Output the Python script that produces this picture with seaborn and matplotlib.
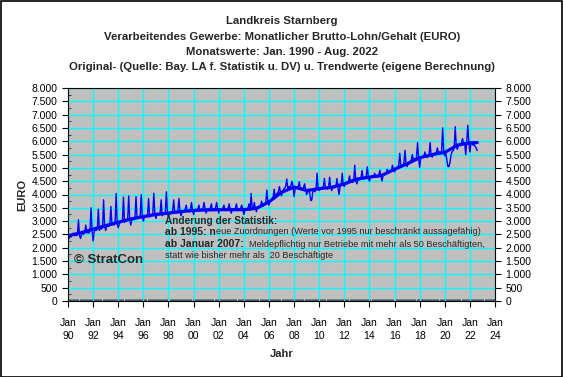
import pandas as pd
import matplotlib
matplotlib.use("Agg")
import matplotlib.pyplot as plt
import seaborn as sns
from matplotlib.ticker import FuncFormatter, MultipleLocator

# monthly gross wage (EURO), Jan 1990 - Aug 2022
values_1990s = [
    2400, 2350, 2450, 2400, 2500, 2550, 2450, 2500, 2450, 2500, 3050, 2450,
    2350, 2500, 2550, 2500, 2600, 2850, 2550, 2600, 2550, 2650, 3500, 2650,
    2260, 2600, 2700, 2650, 2700, 3450, 2650, 2750, 2700, 2750, 3800, 2800,
    2650, 2800, 2850, 2800, 2900, 3550, 2850, 2900, 2850, 2950, 4040, 2900,
    2750, 2900, 2950, 2950, 3000, 3900, 2950, 3050, 3000, 3050, 3950, 3050,
    2850, 3050, 3100, 3050, 3150, 3920, 3100, 3150, 3100, 3200, 4000, 3150,
    3000, 3150, 3200, 3150, 3250, 3850, 3150, 3250, 3200, 3250, 4050, 3250,
    3100, 3250, 3300, 3250, 3300, 3800, 3200, 3300, 3250, 3350, 4100, 3300,
    3150, 3300, 3350, 3300, 3400, 3800, 3300, 3350, 3300, 3400, 3850, 3350,
    3200, 3350, 3400, 3350, 3450, 3600, 3350, 3400, 3350, 3450, 3700, 3400,
]
values_2000s = [
    3250, 3400, 3450, 3400, 3450, 3600, 3400, 3450, 3400, 3500, 3700, 3450,
    3300, 3450, 3450, 3400, 3500, 3650, 3400, 3450, 3400, 3500, 3700, 3450,
    3300, 3450, 3450, 3400, 3500, 3600, 3400, 3450, 3450, 3500, 3650, 3450,
    3300, 3450, 3450, 3400, 3500, 3650, 3400, 3450, 3400, 3500, 3600, 3450,
    3250, 3400, 3450, 3450, 3500, 3650, 3400, 4040, 3450, 3500, 3700, 3500,
    3350, 3500, 3550, 3500, 3600, 3750, 3550, 3600, 3650, 3700, 4170, 3700,
    3600, 3750, 3800, 3850, 3900, 4200, 3900, 4000, 4050, 4100, 4300, 4100,
    3950, 4100, 4200, 4250, 4300, 4580, 4250, 4300, 4250, 4350, 4500, 4300,
    3920, 4200, 4250, 4250, 4300, 4480, 4200, 4250, 4200, 4250, 4400, 4200,
    4000, 4100, 4150, 4050, 3770, 3800, 4150, 4150, 4100, 4200, 4800, 4200,
]
values_2010s = [
    4150, 4200, 4250, 4200, 4300, 4600, 4250, 4250, 4200, 4300, 4650, 4250,
    4150, 4250, 4300, 4250, 4300, 4600, 4250, 4000, 4300, 4350, 4800, 4350,
    4300, 4400, 4450, 4400, 4500, 4700, 4450, 4500, 4450, 4550, 5100, 4500,
    4400, 4550, 4600, 4550, 4650, 4900, 4600, 4650, 4600, 4700, 5040, 4650,
    4500, 4650, 4700, 4650, 4700, 4800, 4650, 4700, 4650, 4750, 4910, 4700,
    4500, 4700, 4750, 4750, 4800, 4950, 4800, 4850, 4850, 4900, 5100, 4900,
    4850, 4950, 5000, 5000, 5100, 5550, 5050, 5100, 5100, 5200, 5660, 5150,
    5050, 5150, 5200, 5250, 5300, 5500, 5300, 5350, 5300, 5400, 5950, 5350,
    5020, 5350, 5400, 5400, 5450, 5600, 5400, 5450, 5400, 5500, 5950, 5450,
    5400, 5500, 5550, 5500, 5600, 5750, 5550, 5600, 5550, 5650, 6500, 5600,
]
values_2020s = [
    5450, 5550, 5300, 5050, 5050, 5200, 5500, 5600, 5650, 5750, 6550, 5800,
    5700, 5850, 5900, 5850, 5950, 6100, 5900, 5950, 5500, 6000, 6600, 5950,
    5600, 5900, 5950, 5850, 5900, 5800, 5750, 5650,
]

# trend (own calculation), one point per January plus the last month
trend_dates = [f"{y}-01" for y in range(1990, 2023)] + ["2022-08"]
trend_values = [
    2450, 2560, 2700, 2830, 2960, 3080, 3170, 3250, 3300, 3360,
    3400, 3420, 3430, 3430, 3430, 3480, 3720, 4080, 4280, 4150,
    4220, 4270, 4400, 4580, 4650, 4720, 4950, 5150, 5380, 5500,
    5580, 5850, 5940, 5950,
]

year_ticks = list(range(1990, 2025, 2))
tick_labels = [f"Jan\n{y % 100:02d}" for y in year_ticks]

title_lines = [
    "Landkreis Starnberg",
    "Verarbeitendes Gewerbe: Monatlicher Brutto-Lohn/Gehalt (EURO)",
    "Monatswerte: Jan. 1990 - Aug. 2022",
    "Original- (Quelle: Bay. LA f. Statistik u. DV) u. Trendwerte (eigene Berechnung)",
]


def frac_year(dates):
    d = pd.DatetimeIndex(pd.to_datetime(dates))
    return list(d.year + (d.month - 1) / 12)


values = values_1990s + values_2000s + values_2010s + values_2020s
dates = pd.date_range("1990-01-01", periods=len(values), freq="MS")
df = pd.DataFrame({"x": frac_year(dates), "wert": values})
trend = pd.DataFrame({"x": frac_year(trend_dates), "wert": trend_values})

sns.set_style("white")
plt.rcParams["font.family"] = ["Liberation Sans", "DejaVu Sans"]

W, H = 563, 377
fig = plt.figure(figsize=(W / 100, H / 100), dpi=100)
ax = fig.add_axes([68 / W, 1 - 301 / H, (495 - 68) / W, (301 - 88) / H])
ax.set_facecolor("#c0c0c0")

sns.lineplot(data=df, x="x", y="wert", ax=ax, color="#0000ff", linewidth=1.0)
sns.lineplot(data=trend, x="x", y="wert", ax=ax, color="#0000ff", linewidth=2.3)

ax.set_xlim(1990, 2024)
ax.set_ylim(0, 8000)
ax.set_xticks(year_ticks)
ax.set_xticklabels(tick_labels, linespacing=1.45)
ax.xaxis.set_minor_locator(MultipleLocator(1 / 12))
ax.yaxis.set_major_locator(MultipleLocator(500))
ax.yaxis.set_minor_locator(MultipleLocator(250))
ax.yaxis.set_major_formatter(FuncFormatter(lambda v, p: f"{v:,.0f}".replace(",", ".")))
ax.grid(True, which="major", color="#00ffff", linewidth=1.0)
ax.set_axisbelow(True)
for s in ax.spines.values():
    s.set_color("black")
    s.set_linewidth(0.8)

ax.tick_params(axis="both", which="major", labelsize=7.5, colors="black",
               length=4, width=0.8, direction="out")
ax.tick_params(axis="y", which="major", right=True, labelright=True, left=True)
ax.tick_params(axis="x", which="major", bottom=True, pad=8)
ax.tick_params(axis="x", which="minor", bottom=True, length=1.5, width=0.6, direction="in")
ax.tick_params(axis="y", which="minor", left=True, length=2, width=0.6, direction="in")

ax.set_xlabel("Jahr", fontsize=8, fontweight="bold")
ax.xaxis.set_label_coords(0.5, -(354 - 301) / 213, transform=ax.transAxes)
ax.set_ylabel("EURO", fontsize=8, fontweight="bold")
ax.yaxis.set_label_coords(-(68 - 22) / 427, 0.5, transform=ax.transAxes)
ax.xaxis.label.set_va("center")
ax.yaxis.label.set_va("center")

for i, line in enumerate(title_lines):
    fig.text(282 / W, 1 - (21 + 15.5 * i) / H, line, ha="center", va="center",
             fontsize=8.2, fontweight="bold")

# notes inside the plot
fs_b, fs_n = 7.5, 6.6
fig.text(165 / W, 1 - 220 / H, "Änderung der Statistik:", fontsize=7.3,
         fontweight="bold", va="center")
t2 = fig.text(165 / W, 1 - 232 / H, "ab 1995: n", fontsize=fs_b, fontweight="bold", va="center")
ax.annotate("eue Zuordnungen (Werte vor 1995 nur beschränkt aussagefähig)",
            xy=(1, 0.5), xycoords=t2, va="center", fontsize=fs_n)
t3 = fig.text(165 / W, 1 - 244 / H, "ab Januar 2007:", fontsize=fs_b, fontweight="bold", va="center")
ax.annotate("  Meldepflichtig nur Betriebe mit mehr als 50 Beschäftigten,",
            xy=(1, 0.5), xycoords=t3, va="center", fontsize=fs_n)
fig.text(165 / W, 1 - 255 / H, "statt wie bisher mehr als  20 Beschäftigte",
         fontsize=fs_n, va="center")
fig.text(74 / W, 1 - 260 / H, "© StratCon", fontsize=9.5, fontweight="bold", va="center")

fig.patches.append(plt.Rectangle((0.001, 0.001), 0.997, 0.996, transform=fig.transFigure,
                                 fill=False, edgecolor="black", linewidth=1.2))

fig.savefig("out.png", dpi=100, facecolor="white")
